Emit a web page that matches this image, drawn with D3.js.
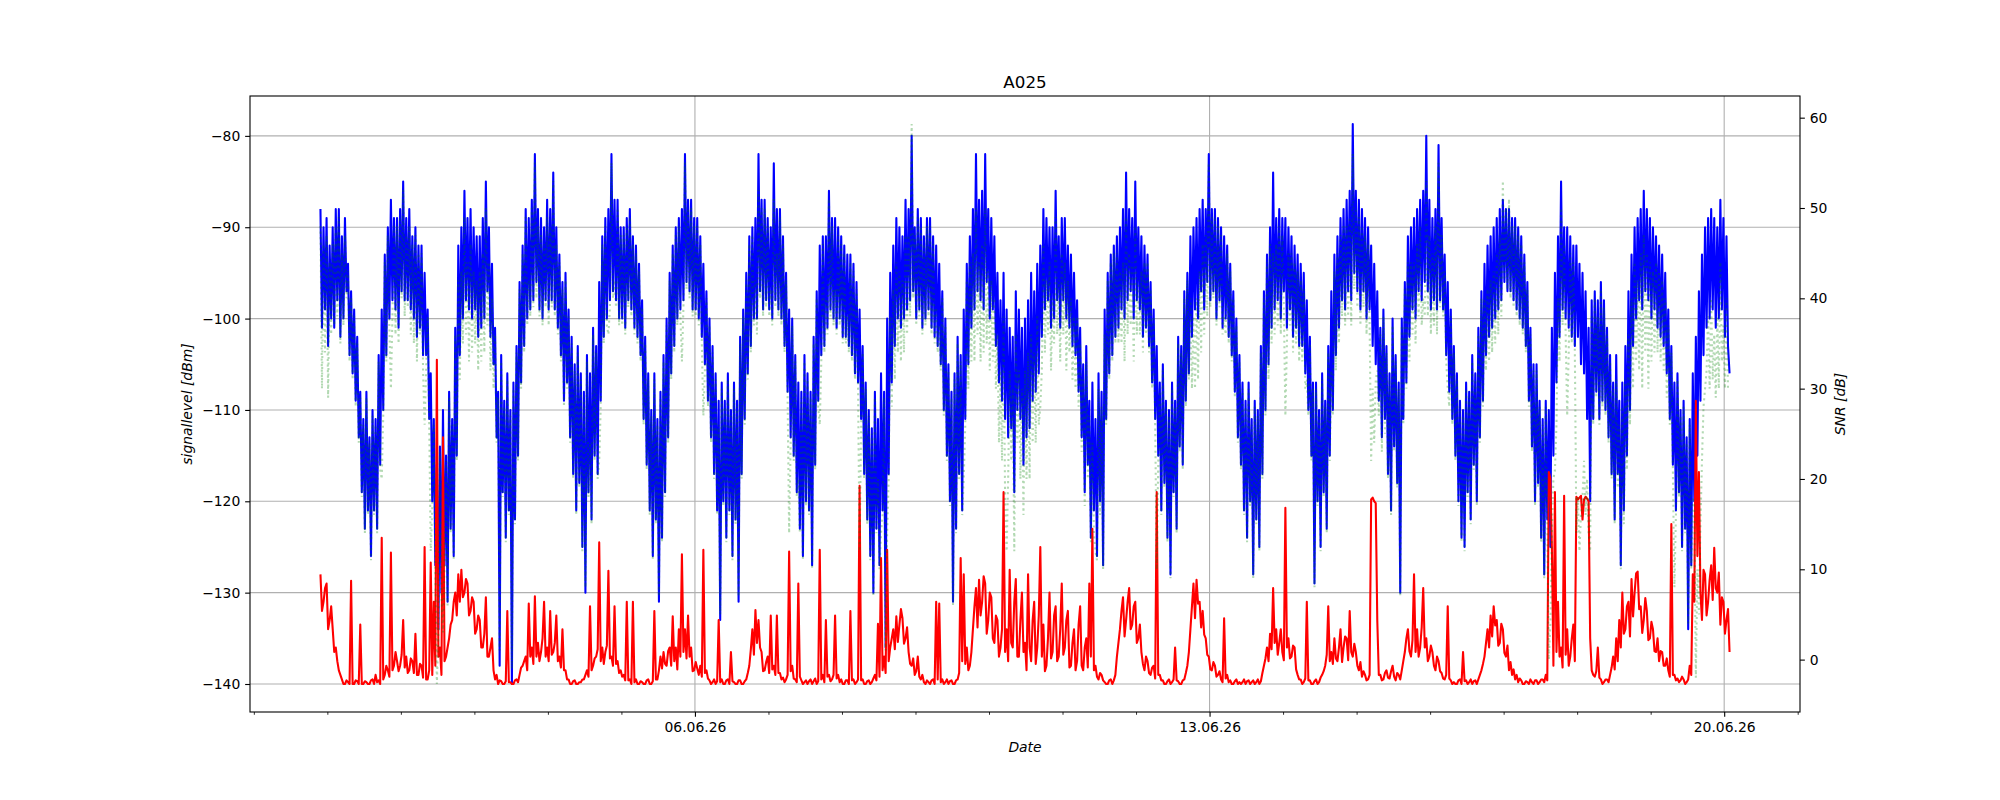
<!DOCTYPE html>
<html><head><meta charset="utf-8">
<script src="https://cdn.jsdelivr.net/npm/d3@7"></script>
<style>body{margin:0;background:#fff}</style>
</head><body><svg id="c" width="2000" height="800"></svg>
<script>
const title = "A025";
const xLabel = "Date";
const leftLabel = "signallevel [dBm]";
const rightLabel = "SNR [dB]";
const startTime = [2026, 4, 31, 21, 45]; // UTC, month 0-based
const signalStepHours = 0.5;
const noiseStepHours = 0.5;
const snrStepHours = 0.5;

// blue: signal level [dBm] (left axis), half-hourly
const signal = [
-88,-101,-90,-99,-89,-103,-92,-100,-90,-101,-88,-98,-88,-102,-91,-100,-89,-97,-94,-104,
-97,-106,-99,-109,-102,-113,
-108,-119,-111,-123,-108,-121,-113,-126,-110,-121,-111,-123,
-104,-116,-99,-110,-93,-104,
-90,-100,-87,-98,-89,-99,-89,-101,-88,-97,-85,-98,-89,-98,-88,-99,-91,-100,-90,-102,-92,-101,-92,-104,-95,-104,
-99,-111,-106,-120,-111,-127,-116,-134,-114,-130,-110,-127,-115,-131,-108,-123,-111,-126,-101,-115,
-92,-104,-90,-100,-86,-98,-89,-99,-88,-100,-90,-99,-91,-102,-91,-101,-89,-100,-85,-97,-90,-102,-94,-105,
-101,-113,-108,-138,-104,-119,-109,-124,-106,-121,-110,-140,-107,-122,-103,-115,
-96,-107,-92,-103,-88,-100,-89,-99,-87,-98,-82,-96,-88,-99,-89,-100,-90,-98,-87,-99,-88,-98,-84,-99,-90,-101,
-93,-104,-96,-109,-95,-107,-99,-113,-102,-117,-105,-121,-103,-118,-106,-125,-108,-130,-104,-119,-106,-122,-101,-115,-103,-117,-96,-109,
-91,-102,-89,-100,-88,-98,-82,-97,-87,-98,-87,-100,-90,-100,-90,-101,-89,-98,-88,-99,-91,-101,-92,-102,-94,-104,
-98,-111,-102,-116,-106,-121,-110,-126,-106,-122,-111,-131,-108,-124,-104,-119,-100,-113,
-95,-106,-92,-103,-90,-100,-89,-99,-88,-98,-82,-96,-87,-97,-87,-99,-89,-99,-89,-100,
-91,-102,-94,-105,-97,-109,-100,-113,-103,-117,-106,-121,-109,-133,-107,-120,-109,-124,-106,-121,-110,-126,-107,-122,-109,-131,-102,-117,-99,-111,
-95,-106,-91,-103,-90,-100,
-89,-100,-82,-97,-87,-99,-87,-98,-89,-99,-90,-100,-83,-98,-88,-99,-88,-100,-91,-103,
-95,-108,-99,-113,-100,-115,-104,-119,-107,-123,-108,-126,-104,-120,-106,-121,-108,-127,
-102,-116,-97,-109,-92,-104,-91,-103,
-91,-101,-86,-99,-89,-100,-89,-101,-90,-100,-91,-102,-92,-102,-93,-103,-93,-104,-94,-106,-96,-107,
-99,-111,-103,-117,-107,-122,-110,-126,-112,-130,-108,-123,-111,-127,-106,-121,-108,-136,-100,-117,
-95,-107,-92,-103,-89,-100,-90,-101,-91,-100,-87,-99,-88,-98,-80,-97,-90,-100,-88,-99,-89,-101,-91,-100,-89,-99,-89,-101,-91,-102,-92,-103,-94,-105,
-97,-110,-100,-115,-105,-120,-108,-131,-106,-123,-102,-117,-104,-121,-99,-111,
-94,-105,-91,-101,-88,-99,-82,-97,-87,-98,-86,-99,-82,-96,-88,-100,-89,-99,-91,-103,
-95,-107,-98,-109,-95,-111,-99,-113,-101,-112,-102,-119,-97,-110,-99,-111,-101,-116,-100,-113,-98,-112,-95,-109,-97,-108,-94,-106,
-92,-102,-88,-99,-89,-98,-90,-101,-90,-100,-86,-98,-91,-101,-89,-98,-89,-100,-92,-101,-93,-103,-95,-104,
-98,-108,-101,-113,-105,-119,-103,-116,-109,-124,-107,-121,-111,-126,-106,-120,-108,-127,-99,-111,
-95,-106,-93,-104,-92,-102,-91,-101,-90,-99,-88,-100,-84,-98,-88,-97,-89,-100,-85,-98,-90,-99,-91,-102,-92,-101,-93,-103,
-96,-107,-99,-111,-103,-115,-107,-121,-105,-118,-109,-124,-110,-128,-107,-119,-109,-123,-102,-114,-103,-116,
-97,-109,-95,-106,-91,-102,-90,-99,-89,-100,-88,-97,-87,-99,-88,-96,-82,-98,-88,-97,-88,-100,-89,-98,-90,-101,-91,-100,-92,-102,-94,-104,
-97,-108,-100,-113,-104,-116,-107,-121,-109,-124,-107,-120,-111,-128,-109,-122,-110,-125,-103,-117,
-97,-110,-93,-105,-90,-101,-84,-99,
-89,-98,-88,-100,-89,-97,-89,-101,-90,-99,-91,-102,-92,-101,-93,-103,-94,-103,-95,-106,
-98,-110,-102,-115,-107,-129,-107,-120,-110,-125,-106,-119,-109,-123,-103,-115,-97,-110,
-93,-104,-91,-101,-89,-98,-88,-99,-87,-97,-86,-98,-78.7,-95,-86,-97,-87,-99,-88,-97,-89,-100,-90,-99,-92,-103,-94,-105,
-97,-109,-101,-113,-99,-111,-103,-117,-106,-121,-100,-114,-104,-118,-107,-130,
-100,-111,-96,-107,-91,-102,-90,-99,-89,-100,-88,-97,-87,-98,-86,-96,-80,-97,-87,-99,-89,-98,-88,-99,-81,-98,-89,-99,-93,-104,
-96,-108,-99,-111,-103,-115,-106,-120,-109,-124,-110,-125,-107,-119,-108,-122,-104,-116,-106,-120,-101,-113,-97,-109,
-94,-104,-92,-102,-91,-101,-90,-100,-89,-99,-88,-98,-87,-96,-88,-97,-88,-97,-89,-98,-89,-99,-90,-100,-91,-101,-93,-103,
-96,-109,-101,-114,-105,-120,-105,-118,-109,-124,-111,-128,-109,-122,-110,-125,
-101,-115,-95,-107,-91,-102,-85,-99,-90,-100,-90,-101,-91,-102,-92,-103,-92,-102,-94,-105,-95,-106,
-97,-111,-101,-120,-98,-111,-97,-108,-98,-111,-96,-109,
-98,-110,-101,-113,-104,-117,-107,-122,-104,-117,-109,-127,-107,-121,-103,-115,-97,-110,
-93,-103,-90,-100,-89,-98,-88,-99,-86,-97,-88,-98,-89,-100,-90,-99,-91,-101,-92,-102,-93,-103,-95,-106,
-99,-111,-103,-116,-107,-121,-106,-119,-110,-125,-109,-123,-113,-134,-111,-127,-106,-120,
-102,-115,-97,-109,-93,-104,-90,-101,
-89,-100,-88,-99,-89,-101,-90,-100,-87,-99,-89,-102,-91,-103,
-106
];

// red: noise level [dBm] (left axis), half-hourly
const noise = [
-128,-132,-131,-129.5,-129,-134,-133,-131.5,-134,-136.5,-136,-137.5,-138.5,-139,-139.5,-140,-140,-139.6,-139.8,-140,
-128.7,-140,-140,-139.6,-139.7,-140,-133.5,-140,-140,-139.7,-139.8,-140,-140,-139.6,-139.5,-140,-139,-139.8,-139.6,-140,
-124,-139.5,-139,-138,-138.5,-139.2,-125.6,-138.5,-138,-136.5,-137.5,-138.6,-138,-136.8,-133,-138.2,-137,-138.8,-138.5,-137.2,
-137.5,-138.8,-134.5,-139,-139,-137.8,-138,-139.3,-125,-139.5,-139.5,-138.5,-126.7,-139,-131,-138,-104.5,-137,-136,-139,
-113,-137.5,-137,-136,-135,-133.5,-133,-131,-130,-132.5,-128,-131,-127.5,-130.5,-130,-128.5,-129,-132.5,-132,-130.5,
-131,-134.5,-134,-132.5,-133,-136,-136,-134.5,-130.5,-137,-137,-136,-135,-138.5,-139.5,-139,-140,-139.6,-139.7,-140,
-140,-139.7,-132,-139.8,-139.8,-140,-140,-139.6,-139.5,-139.8,-139,-138.2,-138,-137.5,-137,-138.5,-131.2,-137,-136,-137.8,
-130.4,-137,-135.5,-137.5,-136.5,-135,-131,-137,-136,-137.5,-132,-136.8,-136.5,-135.5,-132.5,-137.5,-137,-138.2,-134,-138.5,
-138.5,-139.5,-139.5,-140,-140,-139.7,-139.6,-140,-140,-139.8,-139.8,-139.5,-139.5,-139,-138.5,-139.2,-131.5,-138.5,-138,-137.2,
-137,-136.2,-124.5,-137.5,-136,-137.8,-136.5,-135.8,-127.6,-137.2,-137,-138,-131.5,-137.8,-137.5,-138.8,-138.5,-139.2,-139,-139.6,
-131,-139.6,-139.5,-140,-131,-139.8,-139.5,-140,-140,-139.7,-139.8,-140,-140,-139.6,-139.5,-140,-140,-139.7,-132,-139.5,
-139.5,-138.5,-137,-138.3,-136.5,-137.8,-138,-136.4,-136,-138,-132.6,-137.5,-136,-138.4,-134,-137,-125.8,-136.5,-134,-137.2,
-132.5,-137,-136,-138.6,-138.5,-137.6,-138.3,-139,-138,-139.2,-125.3,-138.8,-138.5,-139.4,-139.6,-140,-139.8,-139.5,-140,-139.7,
-133,-139.8,-139.5,-140,-140,-139.6,-139.5,-140,-136.5,-139.7,-139.8,-140,-140,-139.6,-139.6,-140,-140,-139.7,-139.5,-138.8,
-138,-136.2,-134,-136.8,-131.9,-135.5,-133,-136,-136.5,-138.6,-138.5,-137.6,-137,-138.8,-132.5,-138.4,-138,-139,-132.5,-138.8,
-138.8,-139.5,-139.3,-139.8,-139.5,-139,-125.5,-138.6,-138,-139.4,-139.5,-139.8,-129,-139.2,-139.6,-140,-139.8,-139.6,-140,-139.7,
-139.5,-140,-139.7,-139.4,-140,-139.7,-125.3,-139.5,-139,-139.8,-133,-139.2,-139,-139.7,-139.5,-139,-132.5,-139.4,-139,-139.8,
-139.5,-140,-140,-139.6,-139.6,-140,-132,-139.6,-139.5,-140,-139.8,-139.5,-118.3,-139.6,-139.5,-140,-140,-139.7,-139.6,-140,
-139.8,-139.4,-139,-139.6,-133.4,-139.2,-126.2,-138.5,-137,-138.8,-125.3,-137.5,-136,-135,-134,-136.2,-132.6,-135.4,-133.5,-131.8,
-132.8,-135.6,-135,-133.8,-136.5,-137.8,-138,-137.2,-139,-138.6,-137,-139.2,-139.5,-139,-139.8,-140,-139.6,-139.8,-140,-139.6,
-139.5,-140,-131,-139.5,-131.2,-139.8,-139.5,-140,-139.8,-139.5,-140,-139.7,-139.6,-140,-140,-139.6,-139.5,-138.8,-126.2,-137.5,
-128,-137.8,-136,-138.5,-138,-136.5,-134,-131.5,-129.5,-133.8,-128.6,-132.5,-131,-128.2,-129,-134.5,-133,-130,-130.5,-135,
-135.5,-132.5,-133,-137,-136,-134,-119,-136.5,-134,-137.5,-127.5,-135.5,-136,-131,-128.5,-137,-137,-133,-130,-136.5,
-135.5,-138.5,-128,-136,-137.5,-133,-131,-137.8,-136,-132.5,-125,-137,-133.5,-138.6,-138,-135,-130,-137.2,-136.5,-132.5,
-131.5,-137.5,-137,-134,-129,-136.8,-136,-133,-132,-138.2,-138,-135.5,-134,-138.5,-137.5,-133.5,-131.5,-138,-138.5,-136,
-135,-138.2,-129,-137,-123,-138.5,-138,-139.2,-139.5,-138.8,-139,-139.6,-139.8,-140,-140,-139.6,-139.5,-140,-139.6,-139,
-137,-135.5,-134,-132,-130.5,-134.8,-133,-131,-129.5,-134,-133.5,-131.5,-131,-135.5,-135,-133.5,-136.5,-137.8,-138.5,-137,
-137.5,-138.8,-139,-138.2,-138,-139.4,-119,-139,-139,-139.6,-139.6,-140,-140,-139.7,-139.5,-140,-139.8,-139.5,-136,-139.6,
-139.7,-140,-140,-139.6,-139.5,-138.8,-138,-136.5,-134,-131.5,-129,-132.8,-128.6,-131.2,-131,-133.8,-132,-134.6,-135,-136.8,
-137,-138.4,-138.5,-137.6,-138,-139.2,-139,-138.6,-139.5,-139.8,-132.8,-139.4,-139,-139.8,-139.6,-140,-140,-139.7,-139.5,-140,
-139.8,-140,-139.8,-139.5,-140,-139.7,-139.6,-140,-139.8,-139.6,-140,-139.8,-139.5,-140,-139.7,-138.8,-138,-137.2,-136,-137.5,
-134.5,-136.2,-129.5,-135.5,-134,-136.8,-135.5,-134,-136.5,-137.4,-120.7,-136,-135,-137.2,-137,-135.8,-136,-138.4,-139,-139.5,
-139.5,-140,-139.8,-139.4,-131,-139.6,-139.6,-140,-140,-139.7,-139.5,-140,-139.8,-139.3,-139,-138.6,-138,-136.8,-131.5,-137.5,
-136.5,-137.8,-135,-137.2,-137.5,-136,-134,-137.6,-136,-134.8,-135,-137.4,-132,-136.5,-137,-135.6,-136.5,-138,-138.5,-137.6,
-139.2,-138.6,-139,-139.6,-139.5,-139,-119.8,-119.6,-120,-120.2,-133,-139,-139,-139.6,-139.5,-138.8,-138.5,-139.3,-139.4,-138.6,
-138,-139.2,-139.6,-138.8,-139,-139.5,-138.5,-137.5,-136.5,-135,-134,-136.4,-137,-135.2,-128,-136.5,-134,-137,-136,-133.8,
-129.5,-136,-135,-137.5,-137,-135.8,-136.5,-138,-138.5,-137,-137.5,-138.6,-138.8,-139.4,-139.5,-139,-131.5,-139.4,-139.6,-140,
-139.8,-140,-140,-139.6,-139.5,-140,-136.5,-139.7,-139.6,-140,-139.8,-139.5,-140,-139.7,-139.6,-140,-139.5,-139,-138.5,-137.8,
-137,-135.5,-134,-136,-132.5,-134.8,-131.5,-133.6,-133,-135.8,-135.5,-133.4,-134,-136.6,-137,-135.8,-138.5,-137.6,-139,-138.4,
-139.5,-139,-139.8,-139.4,-139.6,-140,-140,-139.7,-139.8,-140,-139.5,-139.8,-140,-139.6,-139.6,-140,-139.8,-139.5,-139.5,-139.8,
-139,-139.6,-116.8,-117.5,-125,-138,-119,-136.5,-131,-137,-136,-138.2,-119.4,-136.8,-134,-138,-137,-135,-133.5,-137.5,
-119.5,-119.8,-119.6,-119.4,-122,-119.8,-119.5,-119.7,-120,-135,-138.5,-139,-139.2,-138.6,-136,-139.3,-139.5,-140,-139.8,-139.5,
-139.5,-139.8,-139,-138.2,-137,-138.4,-135,-137.5,-133,-136,-130,-134.5,-134,-131.5,-131,-134.8,-128.5,-132.6,-130,-127.9,
-127.7,-131.8,-131.5,-134.4,-133,-130.6,-132,-135.2,-135,-133.2,-134,-136.4,-136.5,-135,-137.5,-136.4,-136.5,-138,-138,-137.2,
-138.5,-139.2,-122.5,-139,-139,-139.6,-139.4,-139.8,-139.6,-139.2,-139.5,-140,-139.8,-139.5,-138,-139,-128,-131,-109,-126,
-116.8,-130,-133,-127.5,-128,-132.5,-131,-128.6,-127,-130.8,-125.1,-129.5,-130,-127.8,-133.5,-130.5,-131,-134.5,-133,-131.8,
-136.5
];

// green dotted: SNR [dB] (right axis), half-hourly
const snr = [
48,30,46,34,47,29,44,36,46,37,48,38,49,35,45,37,47,40,43,33,
40,31,38,28,35,24,
29,18,26,14,29,16,24,11,27,16,26,14,
33,21,20,27,44,33,
47,37,30,38,48,36,48,35,49,40,52,38,47,39,48,36,46,35,47,33,45,36,45,32,26,32,
38,26,12,17,26,10,-2.7,3,23,7,3,10,22,6,29,14,26,11,36,22,
42,31,43,35,49,36,44,33,46,34,43,35,42,32,43,33,45,34,50,37,44,32,40,30,
36,24,29,1,33,18,28,13,31,16,27,-1,30,15,34,22,
41,30,45,34,49,37,42,38,50,39,55,40,48,38,47,37,46,39,49,37,48,39,53,38,46,36,
44,33,41,28,42,30,38,24,35,20,32,16,34,19,31,12,29,8,33,18,24,15,36,22,34,20,22,28,
46,35,48,37,36,39,55,40,42,39,50,37,47,37,47,36,48,39,49,38,46,36,45,35,43,33,
39,26,35,21,31,16,27,11,31,15,26,7,29,13,33,18,37,24,
42,31,45,34,47,37,48,38,33,39,55,41,50,40,50,38,48,38,48,37,
46,35,27,32,40,28,37,24,34,20,31,16,26,5,30,17,28,13,31,16,27,11,30,15,28,7,35,20,38,26,
42,31,46,34,47,37,
42,36,52,40,50,38,50,39,48,38,41,37,51,39,45,38,49,37,46,34,
42,29,14,24,37,22,33,18,20,14,29,11,33,17,31,16,29,10,
35,21,40,28,26,33,46,34,
40,36,51,38,48,37,41,36,47,37,46,35,45,35,38,34,44,33,43,31,41,30,
12,26,34,20,30,15,27,11,25,7,29,14,20,10,14,16,29,1,14,20,
38,28,41,31,44,34,43,33,42,34,47,36,47,38,59.3,40,47,37,49,38,48,36,46,37,48,38,48,36,46,35,39,34,37,32,
40,27,37,22,32,17,29,6,31,14,35,20,33,16,20,26,
42,30,44,33,45,33,50,36,44,33,46,34,50,35,43,32,42,33,40,30,
36,24,32,22,38,18,12,20,32,22,30,12,36,24,32,20,30,16,32,20,34,20,36,24,34,24,38,26,
28,32,46,34,42,36,44,32,40,35,49,36,42,33,45,36,44,32,42,34,40,31,38,30,
38,28,35,23,31,17,33,20,27,13,24,14,12,11,30,16,28,10,36,26,
42,31,44,33,45,35,45,35,43,35,44,33,49,36,45,37,44,33,48,36,42,36,43,34,44,36,44,34,
41,30,38,26,10,22,30,16,32,19,28,13,27,9,30,18,28,14,35,23,34,21,
40,28,42,31,40,30,38,30,40,31,43,34,46,36,47,38,55,39,49,40,49,37,48,39,47,36,38,36,45,35,43,33,
40,29,37,24,33,21,30,16,28,13,30,17,26,9,28,15,27,12,34,20,
40,27,44,31,46,35,45,36,
46,37,48,36,47,39,27,35,45,37,45,34,44,35,43,33,42,33,41,30,
31,27,35,22,30,8,30,17,27,12,31,18,28,14,34,22,32,27,
43,32,45,35,47,38,48,37,48,38,49,37,56,41,50,39,49,37,48,39,47,36,46,37,22,30,24,31,
32,27,36,23,38,25,34,20,31,16,37,23,33,19,30,7,
37,26,41,30,44,33,44,36,44,35,46,38,48,37,40,38,53,38,47,36,45,37,48,36,55,39,47,38,43,33,
30,28,38,26,34,22,31,17,28,13,27,12,30,18,29,15,33,21,31,17,36,24,40,28,
40,32,41,33,42,34,43,35,45,36,47,38,53,42,50,41,51,40,48,39,48,38,47,37,46,36,44,34,
41,28,36,23,32,17,32,19,28,13,26,9,28,15,0,4,
14,20,21,26,40,33,50,37,46,36,27,34,45,35,44,34,14,18,12,16,18,22,
16,20,14,12,38,26,40,29,38,26,41,28,
39,27,36,24,33,20,30,15,31,19,26,10,28,15,31,21,36,26,
40,30,44,33,42,32,45,30,47,34,45,30,44,33,43,34,44,34,43,33,42,32,40,29,
37,26,34,21,8,16,31,18,27,12,28,14,24,4,26,10,18,17,
-2,10,5,15,22,28,30,32,
38,30,40,31,36,29,38,30,44,33,37,30,40,30,
30
];

const majorTickDates = ["2026-06-06", "2026-06-13", "2026-06-20"];
const leftTicks = [-140, -130, -120, -110, -100, -90, -80];
const rightTicks = [0, 10, 20, 30, 40, 50, 60];

// ---------- layout ----------
const W = 2000, H = 800;
const L = 250, R = 1800, T = 96, B = 712;
const FONT = "DejaVu Sans, sans-serif";
const tickFs = 13.9;

const svg = d3.select("#c");
svg.append("rect").attr("width", W).attr("height", H).attr("fill", "#fff");

const t0 = Date.UTC(...startTime);
const timesOf = (arr, step) => arr.map((_, i) => new Date(t0 + i * step * 3600e3));
const tSig = timesOf(signal, signalStepHours);
const tNoi = timesOf(noise, noiseStepHours);
const tSnr = timesOf(snr, snrStepHours);

const [tMin, tMax] = d3.extent(tSig.concat(tNoi, tSnr), d => +d);
const span = tMax - tMin;
const x = d3.scaleUtc()
  .domain([new Date(tMin - 0.05 * span), new Date(tMax + 0.05 * span)])
  .range([L, R]);

function padded(vals) {
  const [a, b] = d3.extent(vals);
  const m = (b - a) * 0.05;
  return [a - m, b + m];
}
const yL = d3.scaleLinear().domain(padded(signal.concat(noise))).range([B, T]);
const yR = d3.scaleLinear().domain(padded(snr)).range([B, T]);

// grid
const grid = svg.append("g").attr("stroke", "#b0b0b0").attr("stroke-width", 1.1);
leftTicks.forEach(v => {
  grid.append("line").attr("x1", L).attr("x2", R)
    .attr("y1", yL(v)).attr("y2", yL(v));
});
const majors = majorTickDates.map(s => new Date(s + "T00:00:00Z"));
majors.forEach(d => {
  grid.append("line").attr("y1", T).attr("y2", B)
    .attr("x1", x(d)).attr("x2", x(d));
});

// clip
svg.append("clipPath").attr("id", "clip").append("rect")
  .attr("x", L).attr("y", T).attr("width", R - L).attr("height", B - T);
const plot = svg.append("g").attr("clip-path", "url(#clip)");

const mkLine = (ts, y) => d3.line().x((d, i) => x(ts[i])).y(d => y(d));

plot.append("path").datum(signal).attr("d", mkLine(tSig, yL))
  .attr("fill", "none").attr("stroke", "#0000ff").attr("stroke-width", 2.08)
  .attr("stroke-linejoin", "round");
plot.append("path").datum(noise).attr("d", mkLine(tNoi, yL))
  .attr("fill", "none").attr("stroke", "#ff0000").attr("stroke-width", 2.08)
  .attr("stroke-linejoin", "round");
plot.append("path").datum(snr).attr("d", mkLine(tSnr, yR))
  .attr("fill", "none").attr("stroke", "#008000").attr("stroke-opacity", 0.3)
  .attr("stroke-width", 2.08).attr("stroke-dasharray", "2.08,3.44")
  .attr("stroke-linecap", "butt");

// axes
function styleAxis(g) {
  g.selectAll(".domain").remove();
  g.selectAll(".tick line").attr("stroke", "#000").attr("stroke-width", 1.1);
  g.selectAll(".tick text").attr("fill", "#000")
    .attr("font-family", FONT).attr("font-size", tickFs);
}
const fmtL = d3.format("");
svg.append("g").attr("transform", `translate(${L},0)`)
  .call(d3.axisLeft(yL).tickValues(leftTicks).tickFormat(fmtL)
    .tickSize(4.86).tickPadding(4.86).tickSizeOuter(0))
  .call(styleAxis);
svg.append("g").attr("transform", `translate(${R},0)`)
  .call(d3.axisRight(yR).tickValues(rightTicks).tickFormat(fmtL)
    .tickSize(4.86).tickPadding(4.86).tickSizeOuter(0))
  .call(styleAxis);

const days = d3.utcDay.range(x.domain()[0], x.domain()[1])
  .filter(d => !majors.some(m => +m === +d));
svg.append("g").attr("transform", `translate(0,${B})`)
  .call(d3.axisBottom(x).tickValues(days).tickFormat("").tickSize(2.78).tickSizeOuter(0))
  .call(g => { g.selectAll(".domain").remove();
    g.selectAll(".tick line").attr("stroke", "#000").attr("stroke-width", 0.83); });
svg.append("g").attr("transform", `translate(0,${B})`)
  .call(d3.axisBottom(x).tickValues(majors).tickFormat(d3.utcFormat("%d.%m.%y"))
    .tickSize(4.86).tickPadding(4.86).tickSizeOuter(0))
  .call(styleAxis);

// spines
svg.append("rect").attr("x", L).attr("y", T).attr("width", R - L).attr("height", B - T)
  .attr("fill", "none").attr("stroke", "#000").attr("stroke-width", 1.1);

// texts
svg.append("text").attr("x", (L + R) / 2).attr("y", 82)
  .attr("text-anchor", "middle").attr("dominant-baseline", "central")
  .attr("font-family", FONT).attr("font-size", 16.7).text(title);
svg.append("text").attr("x", (L + R) / 2).attr("y", 747)
  .attr("text-anchor", "middle").attr("dominant-baseline", "central")
  .attr("font-family", FONT).attr("font-style", "italic").attr("font-size", tickFs).text(xLabel);
svg.append("text").attr("transform", `translate(187,${(T + B) / 2}) rotate(-90)`)
  .attr("text-anchor", "middle").attr("dominant-baseline", "central")
  .attr("font-family", FONT).attr("font-style", "italic").attr("font-size", tickFs).text(leftLabel);
svg.append("text").attr("transform", `translate(1840,${(T + B) / 2}) rotate(-90)`)
  .attr("text-anchor", "middle").attr("dominant-baseline", "central")
  .attr("font-family", FONT).attr("font-style", "italic").attr("font-size", tickFs).text(rightLabel);
</script>
</body></html>
